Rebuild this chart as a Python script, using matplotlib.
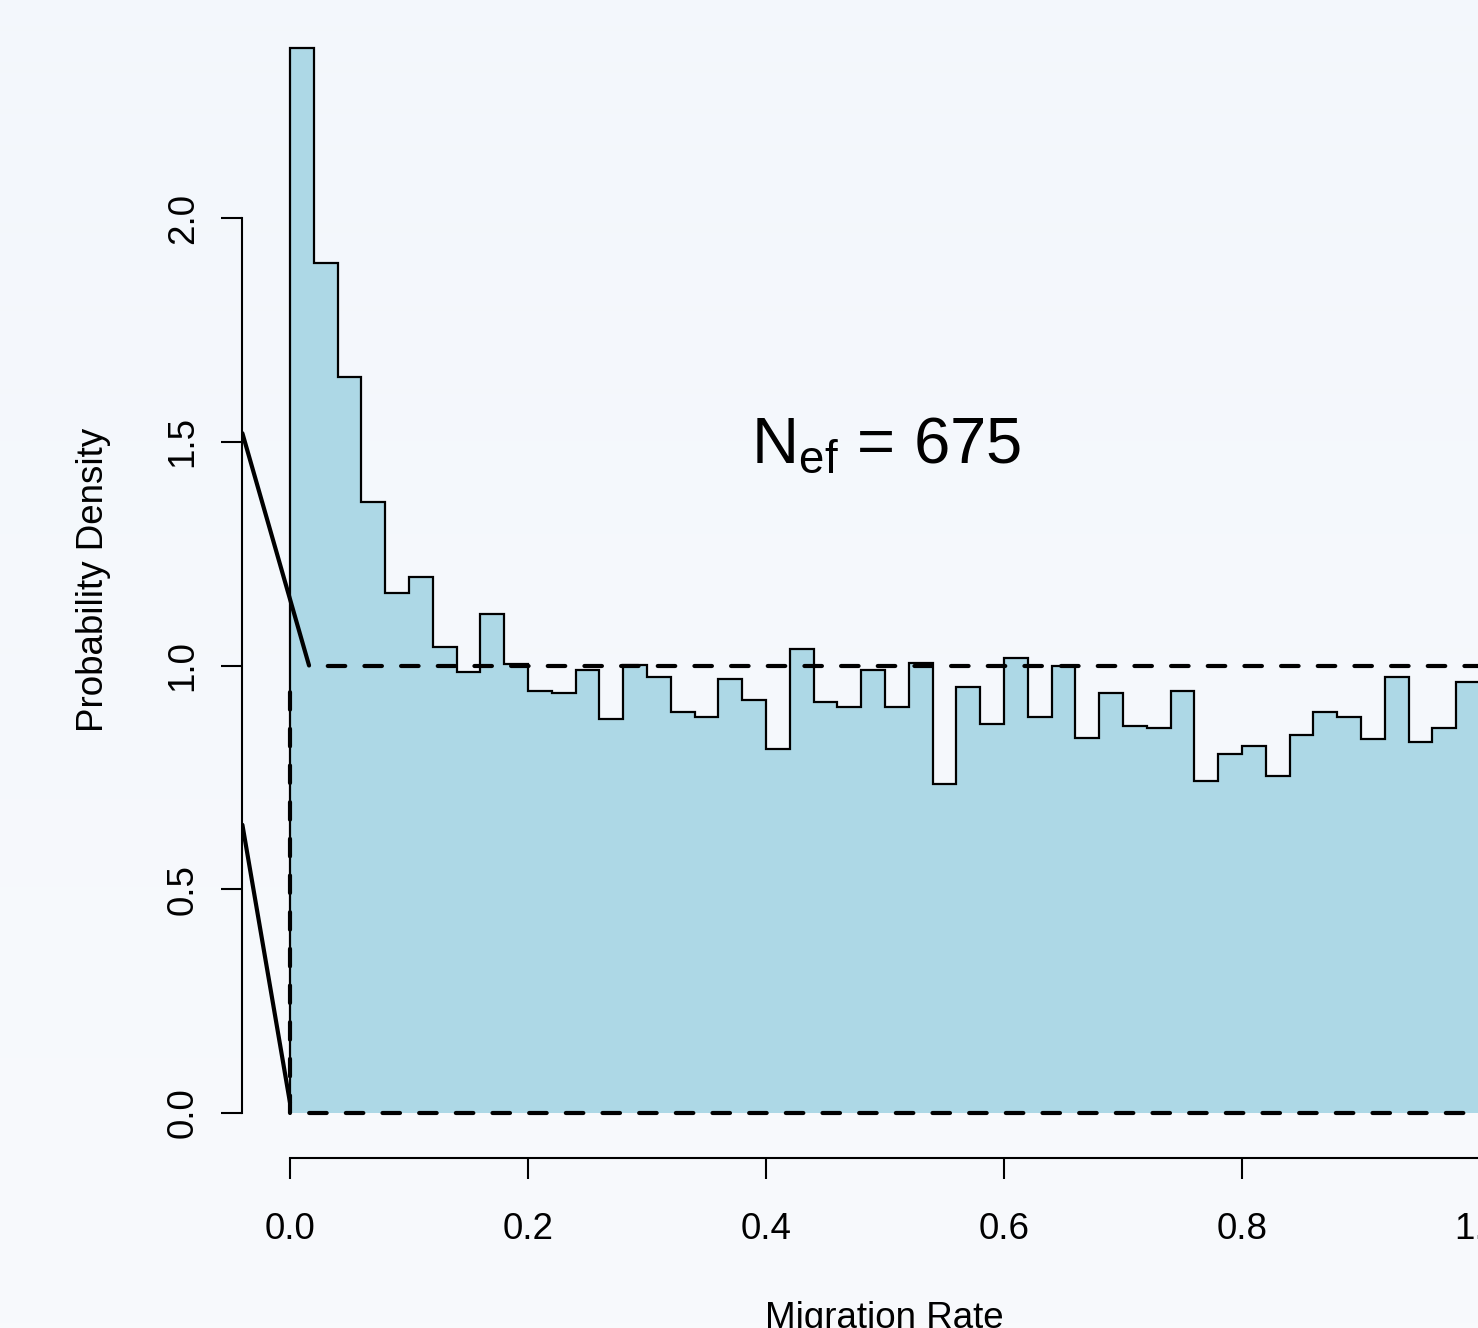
import numpy as np
import matplotlib
matplotlib.use("Agg")
import matplotlib.pyplot as plt

plt.rcParams['font.family'] = ['Liberation Sans', 'DejaVu Sans']
plt.rcParams['mathtext.fontset'] = 'custom'
plt.rcParams['mathtext.rm'] = 'Liberation Sans'

## histogram of migration rate (density, 50 bins on 0..1)
bin_edges = np.linspace(0, 1, 51)
density = [2.380, 1.899, 1.645, 1.365, 1.161, 1.198, 1.041, 0.985, 1.115, 1.003,
           0.944, 0.939, 0.990, 0.880, 1.001, 0.974, 0.897, 0.886, 0.969, 0.923,
           0.814, 1.037, 0.918, 0.907, 0.990, 0.907, 1.006, 0.736, 0.953, 0.870,
           1.016, 0.886, 0.999, 0.839, 0.939, 0.865, 0.860, 0.944, 0.741, 0.803,
           0.819, 0.752, 0.845, 0.897, 0.886, 0.835, 0.974, 0.829, 0.860, 0.964]

# uniform prior (dashed): left side, top and base
prior_left_x = [0, 0]
prior_left_y = [0, 0.955]
prior_top_x = [0.016, 1]
prior_top_y = [1, 1]
prior_base_x = [0, 1]
prior_base_y = [0, 0]

# solid segments near the left edge
seg1_x = [-0.04, 0.016]
seg1_y = [1.519, 1.0]
seg2_x = [-0.04, 0.0]
seg2_y = [0.644, 0.023]

xticks = [0.0, 0.2, 0.4, 0.6, 0.8, 1.0]
yticks = [0.0, 0.5, 1.0, 1.5, 2.0]
nef_label = r'N$_{\mathrm{ef}}$ = 675'

## figure geometry (pixels)
W, H = 1478, 1328
x0px, sx = 290.0, 1190.0      # pixel of x=0, px per unit
y0px, sy = 1113.0, 447.5      # pixel of y=0, px per unit
xlim = (-0.04, 1.04)
ylim = (-0.1006, 2.476)
fs = 26.5

fig = plt.figure(figsize=(W / 100, H / 100), dpi=100)

# faint background gradient
bg = fig.add_axes([0, 0, 1, 1], zorder=-10)
grad = np.linspace(0, 1, 256).reshape(-1, 1)
top_c = np.array([243, 247, 252]) / 255
bot_c = np.array([248, 250, 252]) / 255
img = top_c[None, None, :] * (1 - grad[:, :, None]) + bot_c[None, None, :] * grad[:, :, None]
bg.imshow(img, aspect='auto', extent=[0, 1, 0, 1])
bg.axis('off')

left_px = x0px + xlim[0] * sx
right_px = x0px + xlim[1] * sx
bot_px = y0px - ylim[0] * sy
top_px = y0px - ylim[1] * sy
ax = fig.add_axes([left_px / W, 1 - bot_px / H, (right_px - left_px) / W, (bot_px - top_px) / H])
ax.patch.set_alpha(0)

# filled step histogram, outline only on the envelope
ax.stairs(density, bin_edges, baseline=0, fill=True, color='#ADD8E6', zorder=2)
ax.stairs(density, bin_edges, baseline=0, fill=False, color='black',
          linewidth=1.6, zorder=2.5)

dash = (4.2, 4.6)
ax.plot(prior_left_x, prior_left_y, color='black', lw=3.0, linestyle=(0, dash),
        dash_capstyle='round', zorder=3)
ax.plot(prior_top_x, prior_top_y, color='black', lw=3.0, linestyle=(4.3, dash),
        dash_capstyle='round', zorder=3)
ax.plot(prior_base_x, prior_base_y, color='black', lw=3.0, linestyle=(4.2, dash),
        dash_capstyle='round', zorder=3)
ax.plot(seg1_x, seg1_y, color='black', lw=3.0, solid_capstyle='round', zorder=3)
ax.plot(seg2_x, seg2_y, color='black', lw=3.0, solid_capstyle='round', zorder=3)

ax.text(0.5008, 1.4525, nef_label, ha='center', va='baseline', fontsize=47)

ax.set_xlim(xlim)
ax.set_ylim(ylim)

for s in ['top', 'right']:
    ax.spines[s].set_visible(False)
ax.spines['left'].set_bounds(0, 2)
ax.spines['bottom'].set_bounds(0, 1)
for s in ['left', 'bottom']:
    ax.spines[s].set_linewidth(1.5)

ax.set_xticks(xticks)
ax.set_xticklabels(['%.1f' % v for v in xticks])
ax.set_yticks(yticks)
ax.set_yticklabels(['%.1f' % v for v in yticks], rotation=90, va='center')
ax.tick_params(axis='both', direction='out', length=15, width=1.5, labelsize=fs)
ax.tick_params(axis='x', pad=24)
ax.tick_params(axis='y', pad=15)

fig.text(94 / W, 1 - 580 / H, 'Probability Density', rotation=90,
         ha='center', va='center', fontsize=fs)
fig.text(884.8 / W, 0.0, 'Migration Rate', ha='center', va='baseline', fontsize=fs)

fig.savefig('out.png', dpi=100)
